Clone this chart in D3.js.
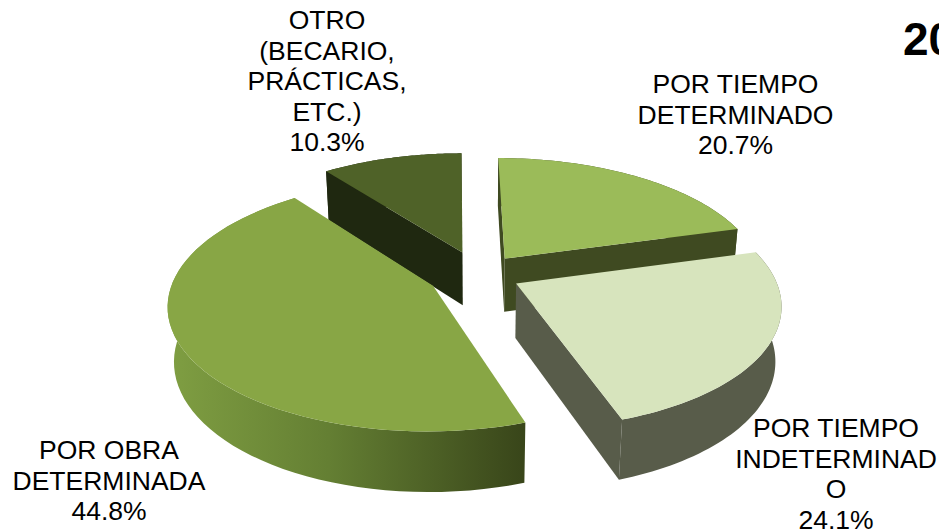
<!DOCTYPE html>
<html>
<head>
<meta charset="utf-8">
<script src="https://cdn.jsdelivr.net/npm/d3@7"></script>
<style>
  html, body { margin: 0; padding: 0; background: #fff; overflow: hidden; }
  svg { display: block; }
  text { font-family: "Liberation Sans", Arial, sans-serif; fill: #000; }
</style>
</head>
<body>
<svg></svg>
<script>
  // chart values
  const categories = [
    ["POR TIEMPO", "DETERMINADO"],
    ["POR TIEMPO", "INDETERMINAD", "O"],
    ["POR OBRA", "DETERMINADA"],
    ["OTRO", "(BECARIO,", "PRÁCTICAS,", "ETC.)"]
  ];
  const values = [20.7, 24.1, 44.8, 10.3];
  const titleText = "20";

  // styles, one per slice
  const topColors = ["#9bbb59", "#d7e4bd", "#88a645", "#4f6228"];
  const wallColors = ["#3f4a21", "#585c4a", "url(#wallGrad)", "#1f2810"];
  const explode = [0.17, 0.16, 0.2, 0.2];

  // label centre x and first line y
  const labelX = [735.5, 836, 109, 327];
  const labelY = [93, 437, 459, 29];

  const width = 939;
  const height = 531;

  // fake 3d: disk of radius 1 seen from above with a bit of perspective
  const cx = 479, cy = 274.5;
  const radiusX = 258, radiusY = 120, depth = 55;
  const persp = 0.15, perspZ = 0.02, shear = 3;

  function project(px, py, z) {
    const w = 1 - persp * py + perspZ * z;
    return [cx + shear * py + radiusX * px / w, cy + (radiusY * py + depth * z) / w];
  }

  const svg = d3.select("svg")
    .attr("width", width)
    .attr("height", height)
    .attr("viewBox", `0 0 ${width} ${height}`);

  // side of the big slice gets darker to the right
  const grad = svg.append("defs").append("linearGradient")
    .attr("id", "wallGrad")
    .attr("gradientUnits", "userSpaceOnUse")
    .attr("x1", 170).attr("x2", 522)
    .attr("y1", 0).attr("y2", 0);
  grad.append("stop").attr("offset", 0).attr("stop-color", "#7f9e42");
  grad.append("stop").attr("offset", 0.45).attr("stop-color", "#647f33");
  grad.append("stop").attr("offset", 1).attr("stop-color", "#39461a");

  const pie = d3.pie().sort(null).value(d => d);
  const slices = pie(values).map((d, i) => {
    const mid = (d.startAngle + d.endAngle) / 2;
    return {
      start: d.startAngle,
      end: d.endAngle,
      i: i,
      ox: Math.sin(mid) * explode[i],
      oy: -Math.cos(mid) * explode[i]
    };
  });

  const line = d3.line();

  function arcPoints(s, z) {
    const n = 60;
    return d3.range(n + 1).map(k => {
      const a = s.start + (s.end - s.start) * k / n;
      return project(s.ox + Math.sin(a), s.oy - Math.cos(a), z);
    });
  }

  function edgeWall(s, a) {
    const ex = s.ox + Math.sin(a), ey = s.oy - Math.cos(a);
    return [
      project(s.ox, s.oy, 0),
      project(ex, ey, 0),
      project(ex, ey, 1),
      project(s.ox, s.oy, 1)
    ];
  }

  // d3.polygonArea comes out negative for clockwise on screen
  function area(pts) {
    return -d3.polygonArea(pts);
  }

  // back slices first
  const drawOrder = [3, 0, 2, 1];
  drawOrder.forEach(idx => {
    const s = slices[idx];
    const g = svg.append("g");
    const fill = wallColors[idx];

    // outer wall
    const topArc = arcPoints(s, 0);
    const botArc = arcPoints(s, 1);
    g.append("path")
      .attr("d", line(topArc.concat(botArc.slice().reverse())) + "Z")
      .attr("fill", fill);

    // radial walls, only the ones facing us
    const startWall = edgeWall(s, s.start);
    const endWall = edgeWall(s, s.end);
    if (area(startWall) < 0) {
      g.append("path").attr("d", line(startWall) + "Z").attr("fill", fill);
    }
    if (area(endWall) > 0) {
      g.append("path").attr("d", line(endWall) + "Z").attr("fill", fill);
    }

    // top face
    const topFace = [project(s.ox, s.oy, 0)].concat(topArc);
    g.append("path")
      .attr("d", line(topFace) + "Z")
      .attr("fill", topColors[idx]);
  });

  // labels
  const lineStep = 30.6;
  categories.forEach((lines, i) => {
    const label = svg.append("text")
      .attr("text-anchor", "middle")
      .style("font-size", "26.5px");
    lines.concat(values[i].toFixed(1) + "%").forEach((t, k) => {
      label.append("tspan")
        .attr("x", labelX[i])
        .attr("y", labelY[i] + k * lineStep)
        .text(t);
    });
  });

  // title, cut off by the edge of the picture
  svg.append("text")
    .attr("x", 903)
    .attr("y", 55)
    .style("font-size", "46px")
    .style("font-weight", "bold")
    .text(titleText);
</script>
</body>
</html>
